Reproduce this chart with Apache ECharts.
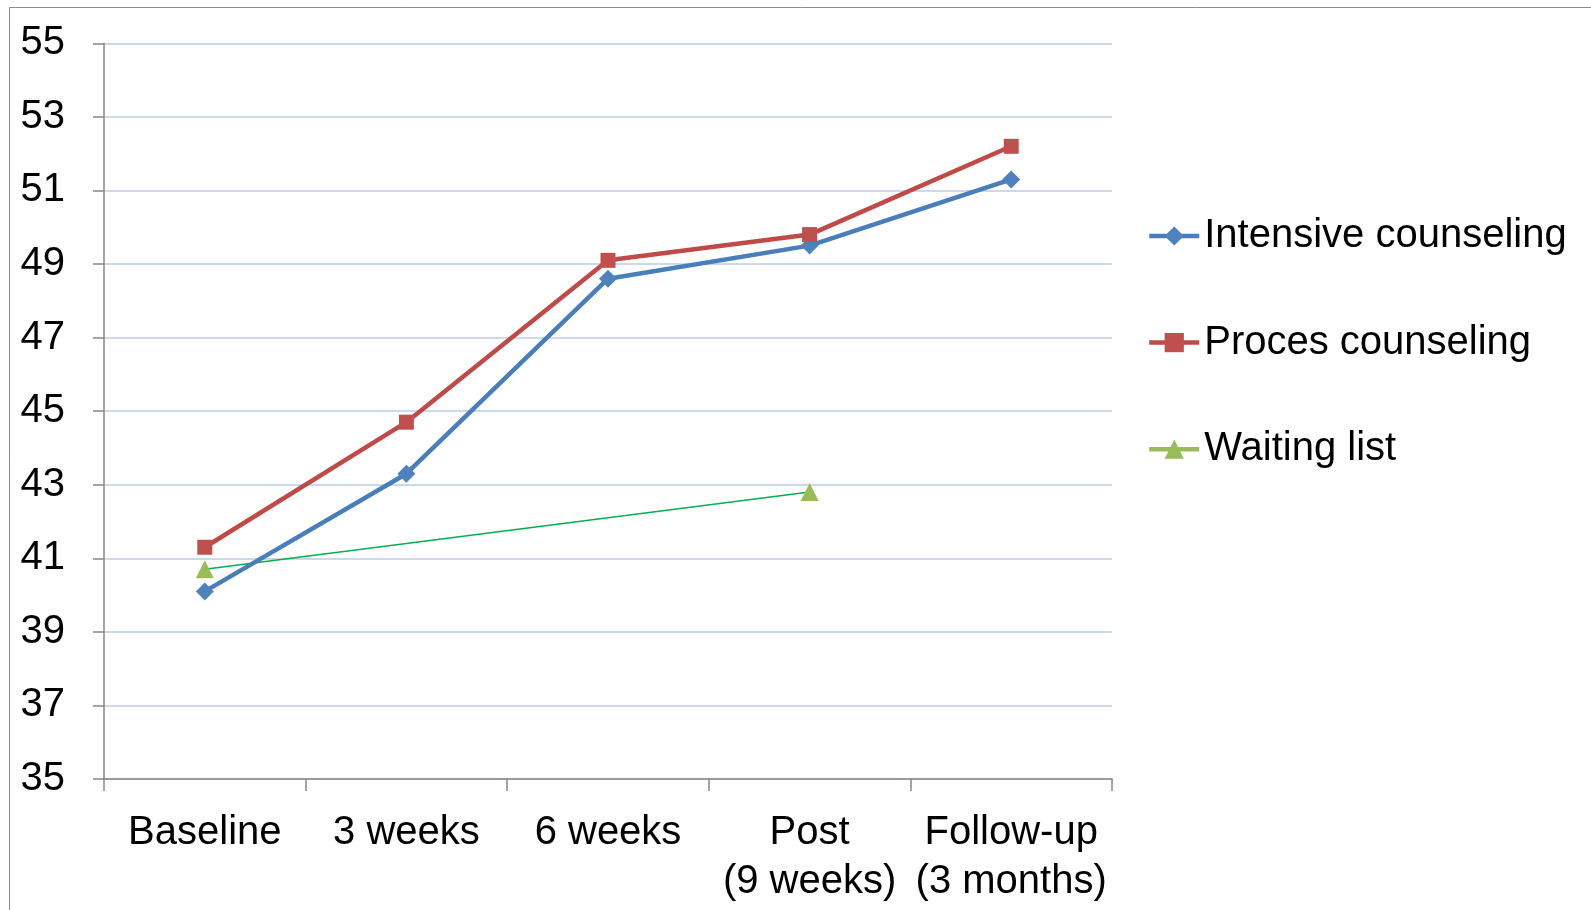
<!DOCTYPE html>
<html>
<head>
<meta charset="utf-8">
<script src="https://cdn.jsdelivr.net/npm/echarts@6/dist/echarts.min.js"></script>
<style>
  html, body { margin: 0; padding: 0; background: #ffffff; }
  #chart { width: 1591px; height: 910px; }
</style>
</head>
<body>
<div id="chart"></div>
<script>
// Measurement points along the study timeline
const categories = ['Baseline', '3 weeks', '6 weeks', 'Post\n(9 weeks)', 'Follow-up\n(3 months)'];

// Mean scores per group (null = not measured)
const intensiveCounseling = [40.1, 43.3, 48.6, 49.5, 51.3];
const procesCounseling = [41.3, 44.7, 49.1, 49.8, 52.2];
const waitingList = [40.7, null, null, 42.8, null];

// Y axis range and step
const yMin = 35;
const yMax = 55;
const yStep = 2;

const chart = echarts.init(document.getElementById('chart'), null, { renderer: 'canvas' });

const option = {
  backgroundColor: '#ffffff',
  animation: false,
  graphic: [
    {
      type: 'rect',
      shape: { x: 9.5, y: 7.5, width: 1700, height: 1000 },
      style: { fill: 'none', stroke: '#8c8c8c', lineWidth: 1 },
      silent: true,
      z: 0
    }
  ],
  grid: {
    left: 104,
    right: 479,
    top: 43.3,
    bottom: 131,
    containLabel: false
  },
  legend: {
    orient: 'vertical',
    left: 1147,
    top: 216,
    padding: 0,
    itemWidth: 50,
    itemHeight: 24,
    itemGap: 66.6,
    textStyle: {
      fontFamily: '"Liberation Sans", Arial, sans-serif',
      fontSize: 40,
      lineHeight: 40,
      color: '#000000'
    },
    data: [
      { name: 'Intensive counseling', lineStyle: { color: '#4a7ebb', width: 4.5 } },
      { name: 'Proces counseling', lineStyle: { color: '#be4b48', width: 4.5 } },
      { name: 'Waiting list', lineStyle: { color: '#9bbb59', width: 4.5 } }
    ]
  },
  xAxis: {
    type: 'category',
    data: categories,
    boundaryGap: true,
    axisLine: { show: true, lineStyle: { color: '#868686', width: 1.5 } },
    axisTick: { show: true, length: 12, lineStyle: { color: '#868686', width: 1.5 } },
    axisLabel: {
      margin: 29,
      fontFamily: '"Liberation Sans", Arial, sans-serif',
      fontSize: 40,
      lineHeight: 49,
      color: '#000000',
      interval: 0
    },
    splitLine: { show: false }
  },
  yAxis: {
    type: 'value',
    min: yMin,
    max: yMax,
    interval: yStep,
    axisLine: { show: true, lineStyle: { color: '#868686', width: 1.5 } },
    axisTick: { show: true, length: 11, inside: false, lineStyle: { color: '#868686', width: 1.5 } },
    axisLabel: {
      margin: 39,
      fontFamily: '"Liberation Sans", Arial, sans-serif',
      fontSize: 40,
      color: '#000000'
    },
    splitLine: { show: true, lineStyle: { color: '#b9cde5', width: 1.5 } }
  },
  series: [
    {
      name: 'Intensive counseling',
      type: 'line',
      data: intensiveCounseling,
      symbol: 'diamond',
      symbolSize: 18,
      lineStyle: { color: '#4a7ebb', width: 4.5 },
      itemStyle: { color: '#4f81bd' },
      z: 3
    },
    {
      name: 'Proces counseling',
      type: 'line',
      data: procesCounseling,
      symbol: 'rect',
      symbolSize: 15,
      lineStyle: { color: '#be4b48', width: 4.5 },
      itemStyle: { color: '#c0504d' },
      z: 3
    },
    {
      name: 'Waiting list',
      type: 'line',
      data: waitingList,
      connectNulls: true,
      symbol: 'triangle',
      symbolSize: 18,
      lineStyle: { color: '#00b050', width: 1.5 },
      itemStyle: { color: '#9bbb59' },
      z: 2
    }
  ]
};

chart.setOption(option);
</script>
</body>
</html>
